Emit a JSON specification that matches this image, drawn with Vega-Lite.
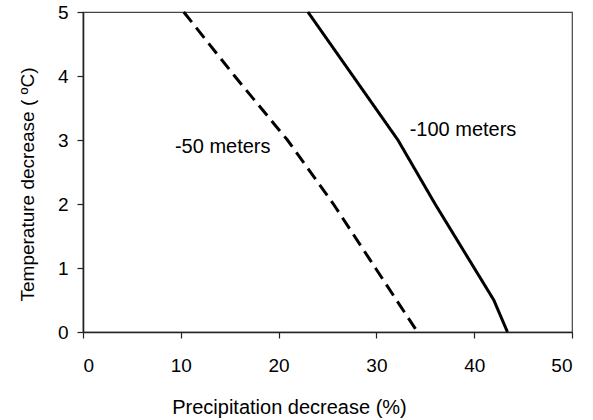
{
  "$schema": "https://vega.github.io/schema/vega-lite/v6.json",
  "width": 489,
  "height": 320,
  "autosize": "none",
  "padding": {"left": 83, "top": 12, "right": 21, "bottom": 88},
  "background": "white",
  "config": {
    "font": "Liberation Sans",
    "view": {"stroke": "#444", "strokeWidth": 1.2},
    "axis": {
      "grid": false,
      "domainColor": "#222",
      "domainWidth": 1.6,
      "tickColor": "#222",
      "tickWidth": 1.2,
      "tickSize": 6,
      "labelFont": "Liberation Sans",
      "labelFontSize": 19,
      "labelColor": "black",
      "titleFont": "Liberation Sans",
      "titleFontSize": 20,
      "titleFontWeight": "normal",
      "titleColor": "black"
    }
  },
  "datasets": {
    "curves": [
      {"series": "-50 meters", "x": 10.3, "y": 5},
      {"series": "-50 meters", "x": 15.5, "y": 4},
      {"series": "-50 meters", "x": 20.9, "y": 3},
      {"series": "-50 meters", "x": 25.6, "y": 2},
      {"series": "-50 meters", "x": 29.9, "y": 1},
      {"series": "-50 meters", "x": 34.2, "y": 0},
      {"series": "-100 meters", "x": 23.0, "y": 5},
      {"series": "-100 meters", "x": 27.6, "y": 4},
      {"series": "-100 meters", "x": 32.2, "y": 3},
      {"series": "-100 meters", "x": 36.0, "y": 2},
      {"series": "-100 meters", "x": 40.0, "y": 1},
      {"series": "-100 meters", "x": 42.0, "y": 0.5},
      {"series": "-100 meters", "x": 43.4, "y": 0}
    ],
    "labels": [
      {"label": "-50 meters", "x": 9.4, "y": 2.89},
      {"label": "-100 meters", "x": 33.4, "y": 3.16}
    ]
  },
  "layer": [
    {
      "data": {"name": "curves"},
      "mark": {"type": "line", "strokeWidth": 3, "color": "black"},
      "encoding": {
        "x": {
          "field": "x", "type": "quantitative",
          "scale": {"domain": [0, 50], "nice": false},
          "axis": {
            "values": [0, 10, 20, 30, 40, 50],
            "format": "d",
            "labelPadding": 18,
            "title": "Precipitation decrease (%)",
            "titleX": 206,
            "titleY": 65,
            "titleBaseline": "top"
          }
        },
        "y": {
          "field": "y", "type": "quantitative",
          "scale": {"domain": [0, 5], "nice": false},
          "axis": {
            "values": [0, 1, 2, 3, 4, 5],
            "format": "d",
            "labelPadding": 9,
            "title": "Temperature decrease ( ºC)",
            "titleFontSize": 19,
            "titleX": -46,
            "titleY": 172
          }
        },
        "strokeDash": {
          "field": "series", "type": "nominal",
          "scale": {"domain": ["-50 meters", "-100 meters"], "range": [[13, 7], [1, 0]]},
          "legend": null
        },
        "order": {"field": "x", "type": "quantitative"}
      }
    },
    {
      "data": {"name": "labels"},
      "mark": {"type": "text", "align": "left", "baseline": "middle", "fontSize": 20, "color": "black"},
      "encoding": {
        "x": {"field": "x", "type": "quantitative", "scale": {"domain": [0, 50], "nice": false}},
        "y": {"field": "y", "type": "quantitative", "scale": {"domain": [0, 5], "nice": false}},
        "text": {"field": "label"}
      }
    }
  ]
}
